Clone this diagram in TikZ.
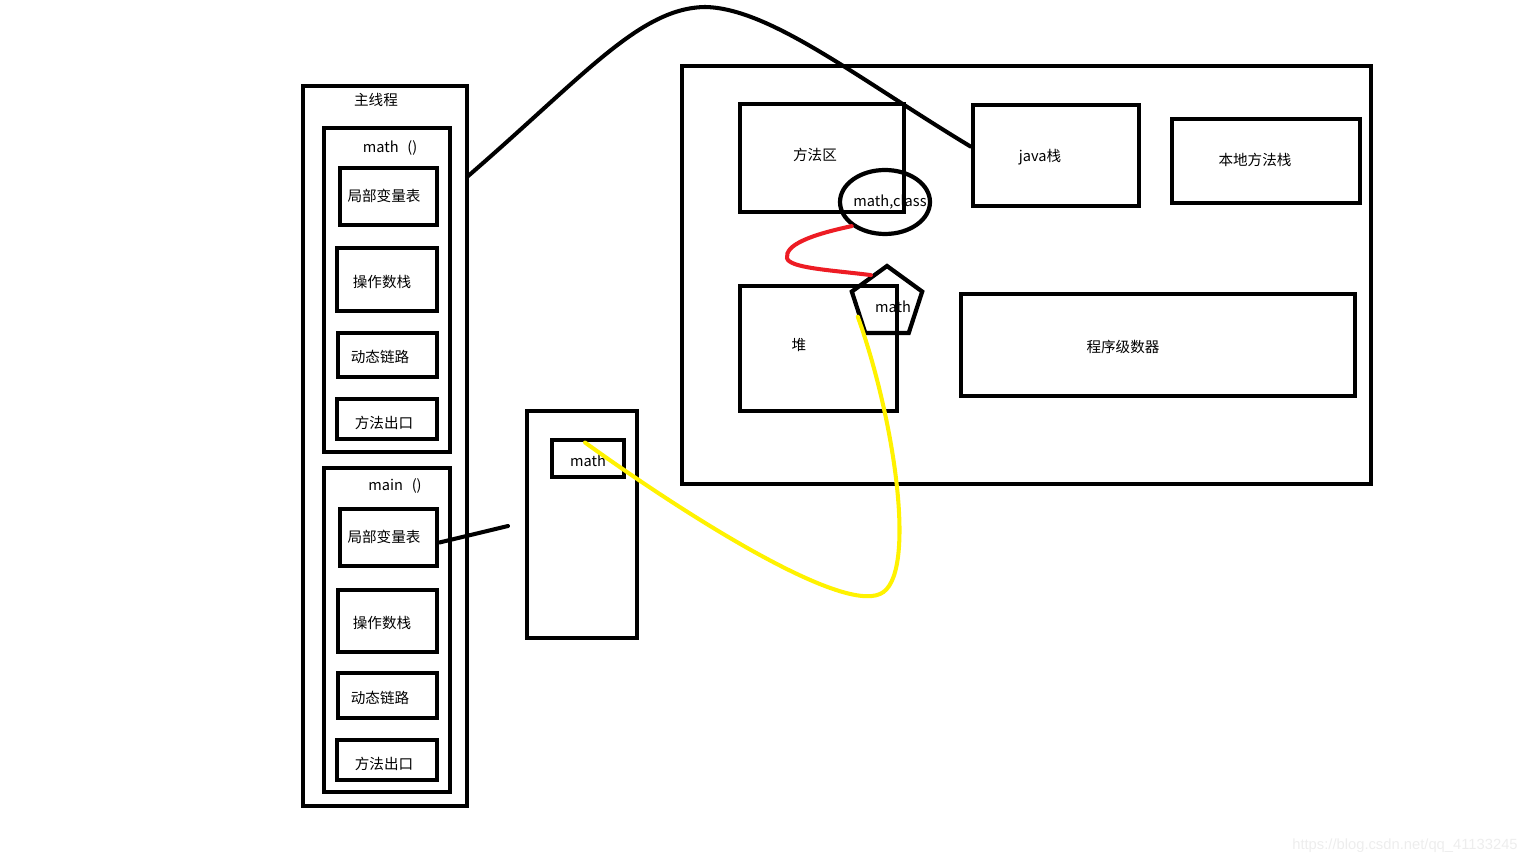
\documentclass[tikz,border=0pt]{standalone}
\usepackage{fontspec}
\setmainfont{Noto Sans CJK SC}
\newfontfamily\arialfont{Liberation Sans}
\usetikzlibrary{positioning, shapes.geometric, fit}
\definecolor{rougevif}{RGB}{237, 28, 36}
\definecolor{jaunevif}{RGB}{255, 242, 0}

\begin{document}
\begin{tikzpicture}[x=0.02cm, y=-0.02cm, font=\fontsize{8.3}{10}\selectfont,
    boite/.style={draw, line width=2.8pt, inner sep=0pt},
    trait/.style={line width=2.3pt, line cap=round}]
    \useasboundingbox (0,0) rectangle (1536,864);
    % pile du thread principal
    \node[boite, fit={(303,86) (467,806)}] (thread) {};
    \node (tthread) at (376,100) {主线程};
    % cadre math()
    \node[boite, fit={(324,128) (450,452)}] (fmath) {};
    \node (tfmath) at (390,148) {math\hspace{0.6em}()};
    \node[boite, fit={(340,168) (437,225)}] (lvA) {};
    \node (tlvA) at (384,196) {局部变量表};
    \node[boite, fit={(337,248) (437,311)}] (opA) {};
    \node (topA) at (382,282) {操作数栈};
    \node[boite, fit={(338,333) (437,377)}] (dyA) {};
    \node (tdyA) at (380,357) {动态链路};
    \node[boite, fit={(337,399) (437,439)}] (exA) {};
    \node (texA) at (384,423) {方法出口};
    % cadre main()
    \node[boite, fit={(324,468) (450,792)}] (fmain) {};
    \node (tfmain) at (395,486) {main\hspace{0.6em}()};
    \node[boite, fit={(340,509) (437,566)}] (lvB) {};
    \node (tlvB) at (384,537) {局部变量表};
    \node[boite, fit={(338,590) (437,652)}] (opB) {};
    \node (topB) at (382,623) {操作数栈};
    \node[boite, fit={(338,673) (437,718)}] (dyB) {};
    \node (tdyB) at (380,698) {动态链路};
    \node[boite, fit={(337,740) (437,780)}] (exB) {};
    \node (texB) at (384,764) {方法出口};
    % reference vers math
    \node[boite, fit={(527,411) (637,638)}] (ref) {};
    \node[boite, fit={(552,440) (624,477)}] (refm) {};
    \node (trefm) at (588,461) {math};
    % zones de la JVM
    \node[boite, fit={(682,66) (1371,484)}] (jvm) {};
    \node[boite, fit={(740,104) (904,212)}] (meth) {};
    \node (tmeth) at (815,155) {方法区};
    \node[boite, fit={(973,105) (1139,206)}] (java) {};
    \node (tjava) at (1040,157) {java栈};
    \node[boite, fit={(1172,119) (1360,203)}] (natif) {};
    \node (tnatif) at (1255,160) {本地方法栈};
    \node[boite, fit={(740,286) (897,411)}] (tas) {};
    \node (ttas) at (799,345) {堆};
    \node[boite, fit={(961,294) (1355,396)}] (pc) {};
    \node (tpc) at (1123,347) {程序级数器};
    % objets
    \node[draw, ellipse, line width=2.4pt, minimum width=1.8cm, minimum height=1.28cm] (cls) at (885,202) {};
    \node (tcls) at (890,202) {math,class};
    \node[draw, regular polygon, regular polygon sides=5, line width=2.4pt, minimum size=1.48cm, inner sep=0pt] (pent) at (887,303) {};
    \node (tpent) at (893,307) {math};
    % liaisons
    \coordinate (depart) at (467,177);
    \coordinate (bout) at (508,526);
    \draw[trait] (depart) .. controls (585,75) and (640,8) .. (705,7)
        .. controls (770,8) and (860,80) .. ([yshift=0.18cm]java.west);
    \draw[trait] ([yshift=-0.1cm]lvB.east) -- (bout);
    \draw[trait, rougevif] (cls.south west) .. controls (810,235) and (785,245) .. (787,258)
        .. controls (789,268) and (830,270) .. (pent.120);
    \draw[trait, jaunevif] ([xshift=-0.06cm, yshift=-0.1cm]refm.north) .. controls (690,518) and (840,612) .. (880,594)
        .. controls (918,578) and (895,420) .. (pent.205);
    % filigrane
    \node[font=\arialfont\fontsize{8.4}{10}\selectfont, text=black!7] (filigrane) at (1405,846) {https://blog.csdn.net/qq\_41133245};
\end{tikzpicture}
\end{document}
